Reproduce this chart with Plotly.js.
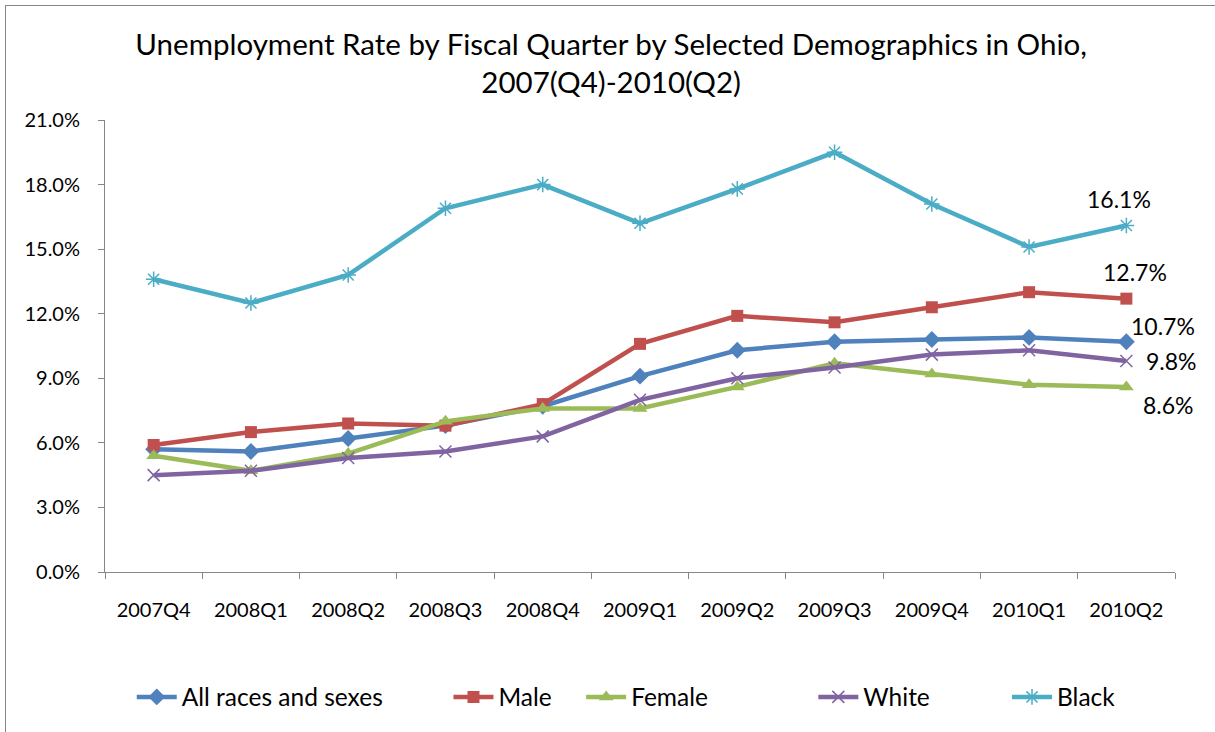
<!DOCTYPE html>
<html>
<head>
<meta charset="utf-8">
<script src="https://cdn.plot.ly/plotly-3.0.1.min.js"></script>
<style>
html,body{margin:0;padding:0;background:#fff;overflow:hidden;}
#frame{position:absolute;left:5px;top:5px;width:1209px;height:726px;border-left:1px solid #868686;border-top:1px solid #868686;}
#chart{position:absolute;left:0;top:0;width:1215px;height:732px;}
</style>
</head>
<body>
<div id="frame"></div>
<div id="chart"></div>
<script>
var quarters = ["2007Q4","2008Q1","2008Q2","2008Q3","2008Q4","2009Q1","2009Q2","2009Q3","2009Q4","2010Q1","2010Q2"];
var allRaces = [5.7, 5.6, 6.2, 6.8, 7.7, 9.1, 10.3, 10.7, 10.8, 10.9, 10.7];
var male     = [5.9, 6.5, 6.9, 6.8, 7.8, 10.6, 11.9, 11.6, 12.3, 13.0, 12.7];
var female   = [5.4, 4.7, 5.5, 7.0, 7.6, 7.6, 8.6, 9.7, 9.2, 8.7, 8.6];
var white    = [4.5, 4.7, 5.3, 5.6, 6.3, 8.0, 9.0, 9.5, 10.1, 10.3, 9.8];
var black    = [13.6, 12.5, 13.8, 16.9, 18.0, 16.2, 17.8, 19.5, 17.1, 15.1, 16.1];
var yTicks = [0, 3, 6, 9, 12, 15, 18, 21];

var FONT = "Lato, 'Open Sans', sans-serif";
function tr(name, y, color, symbol, size, legendId, open){
  var m = {symbol: symbol, size: size, color: color};
  if (open) m.line = {color: color, width: 1.5};
  return {type:'scatter', mode:'lines+markers', name:name, x:quarters, y:y, legend:legendId,
          line:{color:color, width:4.5}, marker:m};
}
var data = [
  tr("All races and sexes", allRaces, "#4F81BD", "diamond", 13, 'legend'),
  tr("Male", male, "#C0504D", "square", 12, 'legend2'),
  tr("Female", female, "#9BBB59", "triangle-up", 13, 'legend3'),
  tr("White", white, "#8064A2", "x-thin-open", 12, 'legend4', true),
  tr("Black", black, "#4BACC6", "asterisk-open", 13, 'legend5', true)
];
var last = quarters.length - 1;
function lab(arr, dx, dy){
  return {x: quarters[last], y: arr[last], xref:'x', yref:'y', text: arr[last].toFixed(1) + '%',
          showarrow:false, xshift:dx, yshift:dy, font:{family:FONT, size:23, color:'#000'}};
}
function leg(x){
  return {orientation:'h', x:x, xanchor:'left', y:-0.2765, yanchor:'middle',
          font:{family:FONT, size:24.5, color:'#000'}, itemwidth:40, bgcolor:'rgba(0,0,0,0)'};
}
var layout = {
  width:1215, height:732,
  margin:{l:105, r:40, t:120, b:160},
  paper_bgcolor:'rgba(0,0,0,0)', plot_bgcolor:'rgba(0,0,0,0)',
  font:{family:FONT, color:'#000'},
  title:{text:"Unemployment Rate by Fiscal Quarter by Selected Demographics in Ohio,<br>2007(Q4)-2010(Q2)",
         x:0.503, xref:'container', xanchor:'center', yref:'container', y:0.925, yanchor:'top',
         font:{family:FONT, size:29.5, color:'#000'}},
  xaxis:{type:'category', range:[-0.5, 10.5], automargin:false, showline:true, linecolor:'#868686', linewidth:1, showgrid:false,
         ticks:'outside', tickson:'boundaries', ticklen:6, tickcolor:'#868686', ticklabelstandoff:20,
         tickfont:{family:FONT, size:20}, zeroline:false},
  yaxis:{range:[0,21], automargin:false, tickvals:yTicks, ticktext:yTicks.map(function(v){return v.toFixed(1)+'%';}),
         showline:true, linecolor:'#868686', linewidth:1, showgrid:false, ticklabelstandoff:14,
         ticks:'outside', ticklen:6, tickcolor:'#868686', tickfont:{family:FONT, size:20}, zeroline:false},
  showlegend:true,
  legend: leg(0.025),
  legend2: leg(0.321),
  legend3: leg(0.445),
  legend4: leg(0.662),
  legend5: leg(0.843),
  annotations:[
    lab(black, -7, 26),
    lab(male, 9, 27),
    lab(allRaces, 37, 16),
    lab(white, 45, 0),
    lab(female, 42, -18)
  ]
};
Plotly.newPlot('chart', data, layout, {displayModeBar:false});
</script>
</body>
</html>
